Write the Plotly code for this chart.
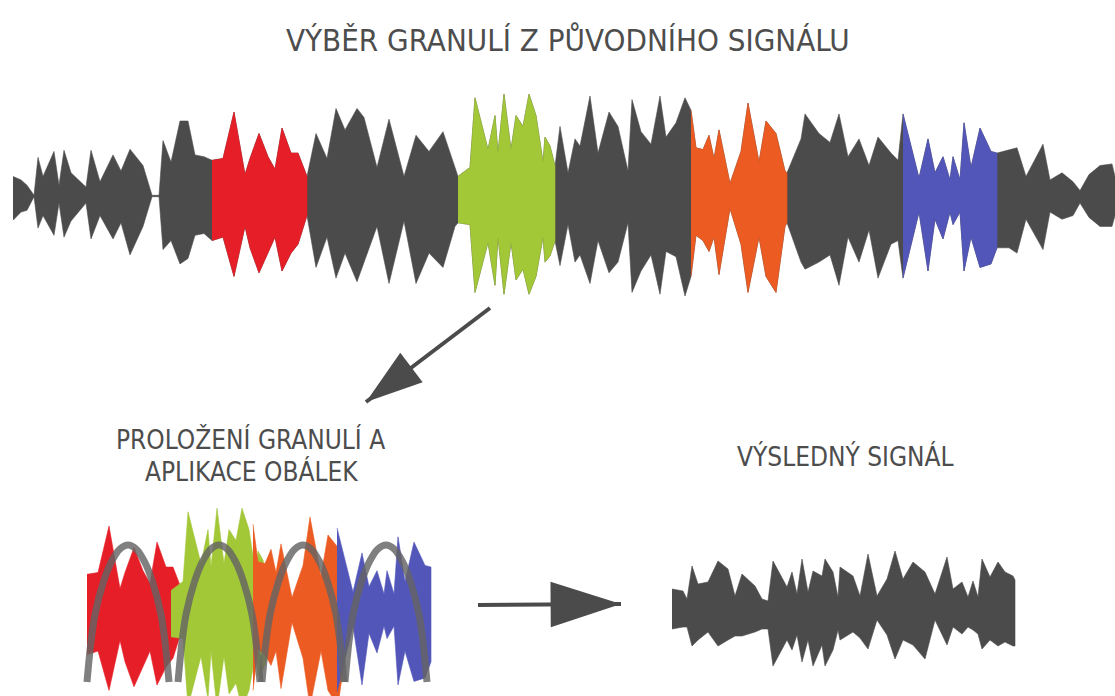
import plotly.graph_objects as go

W, H = 1115, 696

# ---------------- data ----------------
# original signal: time position, upper envelope, lower envelope (amplitudes)
TOP_T = [13, 21, 27, 34, 38, 43, 54, 59, 64, 71, 86, 91, 100, 113, 121, 130, 143, 152, 159,
         163, 171, 180, 188, 195, 204, 212, 223, 234, 245, 250, 259, 268, 275, 282, 291, 298,
         307, 316, 327, 336, 345, 357, 364, 377, 389, 404, 416, 429, 443, 455, 458, 470, 475,
         488, 495, 498, 504, 511, 516, 523, 529, 536, 543, 545, 550, 555, 560, 568, 575, 580,
         590, 598, 609, 618, 628, 632, 641, 651, 660, 666, 676, 685, 691, 696, 703, 709, 714,
         719, 730, 741, 748, 759, 766, 776, 785, 787, 801, 805, 819, 830, 839, 848, 859, 869,
         878, 891, 898, 903, 919, 928, 935, 943, 950, 953, 960, 964, 971, 980, 991, 997, 1009,
         1017, 1026, 1043, 1050, 1062, 1073, 1080, 1089, 1100, 1112, 1115]
TOP_UP = [19.6, 16.1, 10.7, 0.7, 38.6, 19.6, 44.6, 10.7, 45.7, 23.2, 8.9, 45.7, 14.3, 41.1, 25.0,
          46.8, 30.4, 0.7, 0.7, 55.4, 33.9, 75.0, 75.0, 41.1, 39.3, 35.7, 37.5, 83.9, 21.4, 37.5,
          62.5, 39.3, 26.8, 67.9, 42.9, 42.9, 19.6, 62.5, 37.5, 87.5, 66.1, 87.5, 78.6, 28.6,
          76.8, 19.6, 60.7, 44.6, 64.3, 28.6, 19.6, 28.6, 98.2, 46.4, 80.4, 42.9, 101.8, 46.4,
          80.4, 69.6, 101.8, 80.4, 33.9, 58.9, 50.0, 30.0, 69.6, 23.2, 57.1, 50.0, 100.0, 42.9,
          83.9, 69.6, 25.0, 96.4, 64.3, 51.8, 100.0, 58.9, 73.2, 98.2, 85.7, 48.2, 46.4, 60.7,
          37.5, 66.1, 12.5, 44.6, 92.9, 33.9, 75.0, 62.5, 25.0, 23.2, 57.1, 82.1, 62.5, 53.6,
          82.1, 39.3, 57.1, 30.4, 58.9, 42.9, 35.7, 82.1, 17.9, 57.1, 23.2, 39.3, 16.1, 39.3,
          16.1, 73.2, 28.6, 67.9, 44.6, 42.9, 46.4, 48.2, 19.6, 51.8, 16.1, 23.2, 14.3, 5.4,
          21.4, 30.4, 32.1, 19.6]
TOP_DN = [24.3, 16.1, 14.3, 0.7, 32.1, 19.6, 39.3, 7.1, 41.1, 25.0, 7.1, 42.9, 19.6, 42.9, 26.8,
          58.9, 30.4, 0.7, 0.7, 53.6, 44.6, 67.9, 62.5, 39.3, 37.5, 44.6, 41.1, 80.4, 30.4, 51.8,
          76.8, 57.1, 41.1, 75.0, 57.1, 48.2, 19.6, 71.4, 41.1, 82.1, 57.1, 85.7, 66.1, 30.4,
          87.5, 25.0, 87.5, 57.1, 71.4, 30.4, 26.8, 28.6, 96.4, 46.4, 89.3, 41.1, 98.2, 46.4,
          83.9, 73.2, 98.2, 80.4, 41.1, 66.1, 60.0, 45.0, 69.6, 28.6, 66.1, 58.9, 87.5, 44.6,
          76.8, 66.1, 26.8, 96.4, 75.0, 58.9, 98.2, 55.4, 60.7, 100.0, 80.4, 39.3, 44.6, 55.4,
          41.1, 78.6, 12.5, 48.2, 96.4, 41.1, 80.4, 96.4, 30.4, 26.8, 66.1, 73.2, 66.1, 58.9,
          89.3, 41.1, 66.1, 33.9, 82.1, 48.2, 44.6, 82.1, 16.1, 75.0, 23.2, 42.9, 16.1, 28.6,
          16.1, 75.0, 41.1, 71.4, 67.9, 51.8, 51.8, 57.1, 23.2, 53.6, 16.1, 23.2, 19.6, 7.1,
          21.4, 30.4, 30.4, 19.6]

# selected grains (start / end time in the original signal)
GRAIN_START = [212, 458, 691, 903]
GRAIN_END = [307, 555, 787, 997]

# grain envelope (window) shape: normalised position, normalised gain
ENV_U = [0, 0.05, 0.1, 0.2, 0.3, 0.4, 0.5, 0.6, 0.7, 0.8, 0.9, 0.95, 1]
ENV_V = [0, 0.3, 0.5, 0.73, 0.88, 0.97, 1.0, 0.97, 0.88, 0.73, 0.5, 0.3, 0]

# resulting signal
RES_T = [672, 683, 687, 692, 698, 708, 718, 728, 735, 742, 755, 762, 768, 773, 787, 792, 797,
         802, 808, 813, 822, 825, 833, 838, 840, 853, 860, 868, 877, 887, 895, 903, 913, 925,
         935, 947, 953, 962, 968, 973, 978, 982, 990, 998, 1005, 1013, 1015]
RES_UP = [21, 19, 11, 44, 26, 28, 49, 41, 14, 36, 24, 11, 9, 49, 23, 38, 16, 51, 18, 39, 34, 51,
          38, 13, 43, 34, 14, 56, 14, 31, 59, 31, 48, 38, 16, 53, 21, 28, 13, 29, 13, 51, 33, 48,
          38, 34, 30]
RES_DN = [19, 17, 17, 36, 30, 22, 36, 30, 26, 26, 22, 19, 19, 56, 30, 40, 25, 52, 30, 56, 35, 56,
          40, 20, 30, 22, 28, 39, 10, 25, 49, 30, 35, 49, 10, 35, 17, 24, 17, 20, 24, 39, 30, 36,
          32, 36, 36]

TITLE = "VÝBĚR GRANULÍ Z PŮVODNÍHO SIGNÁLU"
SUB1 = "PROLOŽENÍ GRANULÍ A"
SUB2 = "APLIKACE OBÁLEK"
SUB3 = "VÝSLEDNÝ SIGNÁL"

# ---------------- styles / placement ----------------
DARK = "#4b4b4b"
GRAIN_COLORS = ["#e61e27", "#a2c737", "#eb5b22", "#5356b9"]
ENV_COLOR = "rgba(100,100,100,0.82)"
TEXT_COLOR = "#4d4d4d"
FONT = "Liberation Sans Narrow, Arial Narrow, DejaVu Sans Condensed, Roboto, sans-serif"

TOP_CENTER = 196          # pixel row of the top signal's zero line
TOP_ROWS = (70, 320)
BOT_CENTER = 610
BOT_ROWS = (495, 696)
GRAIN_PLACE = [87, 171, 253, 337]   # where each grain is laid in the overlap panel
ARC_LEFT = [87, 178, 262, 345]
ARC_WIDTH = 82
ARC_BASE = -72
ARC_HEIGHT = 137


def poly(t, up, dn, shift=0):
    xs = [v + shift for v in t] + [v + shift for v in t[::-1]]
    ys = list(up) + [-v for v in dn[::-1]]
    return xs, ys


def seg(i0, i1):
    idx = [k for k, v in enumerate(TOP_T) if i0 <= v <= i1]
    return ([TOP_T[k] for k in idx], [TOP_UP[k] for k in idx], [TOP_DN[k] for k in idx])


fig = go.Figure()

# original signal (dark), then highlighted grains
xs, ys = poly(TOP_T, TOP_UP, TOP_DN)
fig.add_trace(go.Scatter(x=xs, y=ys, fill="toself", fillcolor=DARK, mode="lines",
                         line=dict(color=DARK, width=0.6), xaxis="x", yaxis="y",
                         hoverinfo="skip"))
for s, e, c in zip(GRAIN_START, GRAIN_END, GRAIN_COLORS):
    t, u, d = seg(s, e)
    xs, ys = poly(t, u, d)
    fig.add_trace(go.Scatter(x=xs, y=ys, fill="toself", fillcolor=c, mode="lines",
                             line=dict(color=c, width=0.6), xaxis="x", yaxis="y",
                             hoverinfo="skip"))

# overlapped grains
for s, e, c, p in zip(GRAIN_START, GRAIN_END, GRAIN_COLORS, GRAIN_PLACE):
    t, u, d = seg(s, e)
    xs, ys = poly(t, u, d, shift=p - s)
    fig.add_trace(go.Scatter(x=xs, y=ys, fill="toself", fillcolor=c, mode="lines",
                             line=dict(color=c, width=0.6), xaxis="x2", yaxis="y2",
                             hoverinfo="skip"))

# envelopes
for a in ARC_LEFT:
    fig.add_trace(go.Scatter(x=[a + u * ARC_WIDTH for u in ENV_U],
                             y=[ARC_BASE + v * ARC_HEIGHT for v in ENV_V],
                             mode="lines", line=dict(color=ENV_COLOR, width=7, shape="spline"),
                             xaxis="x2", yaxis="y2", hoverinfo="skip"))

# resulting signal
xs, ys = poly(RES_T, RES_UP, RES_DN)
fig.add_trace(go.Scatter(x=xs, y=ys, fill="toself", fillcolor=DARK, mode="lines",
                         line=dict(color=DARK, width=0.6), xaxis="x2", yaxis="y2",
                         hoverinfo="skip"))

# arrows (canvas axes in pixel units)
for (x0, y0, x1, y1, sz) in [(490, 308, 366, 402, 60), (478, 605, 621, 604, 74)]:
    fig.add_trace(go.Scatter(x=[x0, x1], y=[y0, y1], mode="lines",
                             line=dict(color=DARK, width=4),
                             xaxis="x3", yaxis="y3", hoverinfo="skip"))
    fig.add_trace(go.Scatter(x=[x0, x1], y=[y0, y1], mode="markers",
                             marker=dict(symbol="arrow", size=[0, sz], angleref="previous",
                                         color="rgb(75,75,75)", opacity=1,
                                         line=dict(width=0, color="rgb(75,75,75)")),
                             opacity=1, xaxis="x3", yaxis="y3", hoverinfo="skip",
                             cliponaxis=False))

hidden = dict(visible=False, showgrid=False, zeroline=False, fixedrange=True)
fig.update_layout(
    width=W, height=H, margin=dict(l=0, r=0, t=0, b=0),
    paper_bgcolor="white", plot_bgcolor="rgba(0,0,0,0)", showlegend=False,
    hovermode=False,
    xaxis=dict(hidden, domain=[0, 1], range=[0, W]),
    yaxis=dict(hidden, domain=[1 - TOP_ROWS[1] / H, 1 - TOP_ROWS[0] / H],
               range=[-(TOP_ROWS[1] - TOP_CENTER), TOP_CENTER - TOP_ROWS[0]]),
    xaxis2=dict(hidden, domain=[0, 1], range=[0, W], anchor="y2"),
    yaxis2=dict(hidden, domain=[1 - BOT_ROWS[1] / H, 1 - BOT_ROWS[0] / H],
                range=[-(BOT_ROWS[1] - BOT_CENTER), BOT_CENTER - BOT_ROWS[0]], anchor="x2"),
    xaxis3=dict(hidden, domain=[0, 1], range=[0, W], anchor="y3"),
    yaxis3=dict(hidden, domain=[0, 1], range=[H, 0], anchor="x3"),
)


def label(text, cx, cy, size):
    fig.add_annotation(text=text, x=cx / W, y=1 - cy / H, xref="paper", yref="paper",
                       xanchor="center", yanchor="middle", showarrow=False,
                       font=dict(family=FONT, size=size, color=TEXT_COLOR))


label(TITLE, 568, 40, 31)
label(SUB1, 250, 439, 26)
label(SUB2, 251, 472, 26)
label(SUB3, 845, 456, 26)

fig.write_html("out.html", config={"displayModeBar": False, "staticPlot": True},
               post_script="document.body.style.margin='0px';")
